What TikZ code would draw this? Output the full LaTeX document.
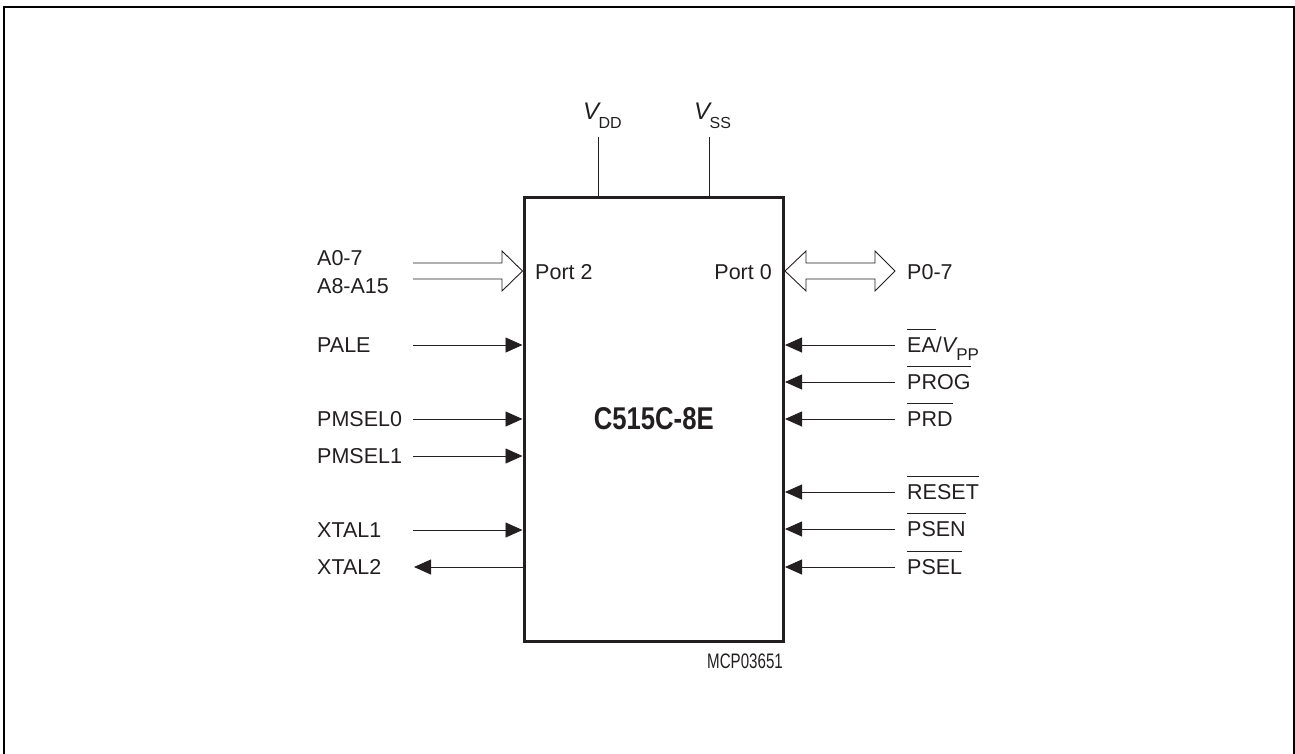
\documentclass[tikz,border=0pt]{standalone}
\usepackage{fontspec}
\setmainfont{Liberation Sans}
\usetikzlibrary{arrows.meta}
\definecolor{ink}{HTML}{231F20}
\newcommand\ovl[1]{\setbox0\hbox{#1}\rlap{\rule[\dimexpr\ht0+8pt\relax]{\wd0}{0.9pt}}\box0}
\begin{document}
\begin{tikzpicture}[x=1pt,y=-1pt,
  lbl/.style={inner sep=0, font=\fontsize{21.5}{24}\selectfont, text=ink},
  sig/.style={line width=0.9pt, draw=ink},
  inarrow/.style={sig, -{Triangle[length=17pt,width=15pt]}},
  hollow/.style={line width=0.9pt, draw=ink, line join=miter},
]
\useasboundingbox (0,0) rectangle (1295,753);
\draw[line width=2pt] (4,760) -- (4,6.5) -- (1293.5,6.5) -- (1293.5,760);

% chip
\node[draw=ink, line width=3pt, minimum width=259.5pt, minimum height=444pt, inner sep=0] (chip) at (653.75,419) {};
\node[inner sep=0, text=ink] (name) at (chip.center) {\scalebox{0.815}[1]{\bfseries\fontsize{31.5}{31.5}\selectfont C515C-8E}};
\node[inner sep=0, text=ink, anchor=base west] (mcp) at (707,668) {\scalebox{0.72}[1]{\fontsize{21}{21}\selectfont MCP03651}};

% supply
\node[lbl, anchor=base west] (vdd) at (583,119) {\fontsize{24}{24}\selectfont\textit{V}\kern-2.5pt\raisebox{-9pt}{\fontsize{16}{16}\selectfont DD}};
\node[lbl, anchor=base west] (vss) at (694,119) {\fontsize{24}{24}\selectfont\textit{V}\kern-2.5pt\raisebox{-9pt}{\fontsize{16}{16}\selectfont SS}};
\coordinate (vddt) at (598,137);
\coordinate (vsst) at (709,137);
\draw[sig] (vddt) -- (vddt |- chip.north);
\draw[sig] (vsst) -- (vsst |- chip.north);

% port 2
\node[lbl, anchor=base west] (a07) at (317,265) {A0-7};
\node[lbl, anchor=base west] (a815) at (317,293) {A8-A15};
\node[lbl, anchor=base west] (port2) at (535,279) {Port 2};
\coordinate (p2tip) at (chip.west |- 0,271);
\draw[hollow] (413,263) -- (502,263) -- (502,251) -- (p2tip) -- (502,291) -- (502,279) -- (413,279);

% port 0
\node[lbl, anchor=base east] (port0) at (772,279) {Port 0};
\node[lbl, anchor=base west] (p07) at (907,279.5) {P0-7};
\coordinate (p0tip) at (chip.east |- 0,271);
\draw[hollow] (p0tip) -- (806,251) -- (806,263) -- (875,263) -- (875,251) -- (895,271) -- (875,291) -- (875,279) -- (806,279) -- (806,291) -- cycle;

% left inputs
\foreach \n/\t/\y in {pale/PALE/345, pmsel0/PMSEL0/419, pmsel1/PMSEL1/456, xtal1/XTAL1/530}{
  \node[lbl, anchor=base west] (\n) at (317,\y+7.5) {\t};
  \coordinate (\n s) at (413,\y);
  \draw[inarrow] (\n s) -- (\n s -| chip.west);
}
\node[lbl, anchor=base west] (xtal2) at (317,574.5) {XTAL2};
\coordinate (xtal2e) at (414,567);
\draw[inarrow] (xtal2e -| chip.west) -- (xtal2e);

% right inputs
\node[lbl, anchor=base west] (ea) at (907,352.5) {\ovl{EA}/\textit{V}\kern-1.5pt\raisebox{-8pt}{\fontsize{17}{17}\selectfont PP}};
\node[lbl, anchor=base west] (prog) at (907,389.5) {\ovl{PROG}};
\node[lbl, anchor=base west] (prd) at (907,426.5) {\ovl{PRD}};
\node[lbl, anchor=base west] (reset) at (907,499.5) {\ovl{RESET}};
\node[lbl, anchor=base west] (psen) at (907,536.5) {\ovl{PSEN}};
\node[lbl, anchor=base west] (psel) at (907,574.5) {\ovl{PSEL}};
\foreach \n/\y in {ea/345, prog/382, prd/419, reset/492, psen/529, psel/567}{
  \coordinate (\n s) at (895,\y);
  \draw[inarrow] (\n s) -- (\n s -| chip.east);
}
\end{tikzpicture}
\end{document}
